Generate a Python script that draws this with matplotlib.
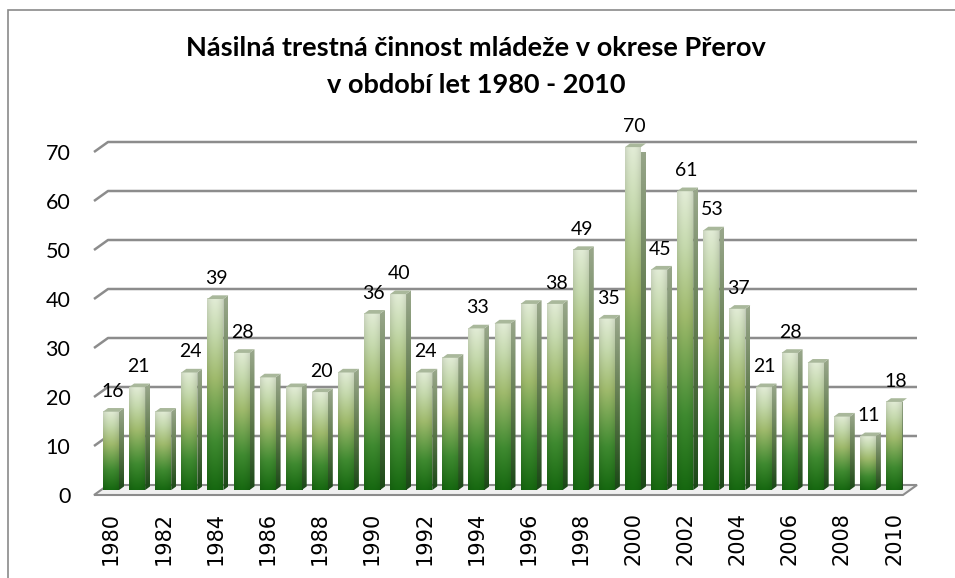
import matplotlib
matplotlib.use("Agg")
import matplotlib.pyplot as plt
import numpy as np
from matplotlib.colors import LinearSegmentedColormap
from matplotlib.patches import Polygon, Rectangle

# ---------------- data ----------------
years = list(range(1980, 2011))
values = [16, 21, 16, 24, 39, 28, 23, 21, 20, 24,
          36, 40, 24, 27, 33, 34, 38, 38, 49, 35,
          70, 45, 61, 53, 37, 21, 28, 26, 15, 11, 18]
labeled_years = [1980, 1981, 1983, 1984, 1985, 1988, 1990, 1991, 1992, 1994,
                 1997, 1998, 1999, 2000, 2001, 2002, 2003, 2004, 2005, 2006,
                 2009, 2010]
yticks = [0, 10, 20, 30, 40, 50, 60, 70]
xtick_years = list(range(1980, 2011, 2))
title_lines = ["Násilná trestná činnost mládeže v okrese Přerov",
               "v období let 1980 - 2010"]

# ---------------- figure ----------------
W, H = 955, 578
fig = plt.figure(figsize=(W / 100, H / 100), dpi=100)
fig.patch.set_facecolor("white")

# outer border (chart area frame)
fig.add_artist(Rectangle((7.5 / W, -0.1), 1.2, 1.1 - 10.5 / H,
                         transform=fig.transFigure, fill=False,
                         edgecolor="#8a8a8a", linewidth=1.2))

px_x0, px_x1 = 94, 903      # front plane left/right in pixels
px_y0, px_y70 = 495, 152    # front plane value 0 / 70
px_per_x = 26.1
cx0 = 111                    # pixel of first bar centre
ax = fig.add_axes([px_x0 / W, (H - px_y0) / H,
                   (px_x1 - px_x0) / W, (px_y0 - px_y70) / H])
ax.set_xlim((px_x0 - cx0) / px_per_x, (px_x1 - cx0) / px_per_x)
ax.set_ylim(0, 70)
for s in ax.spines.values():
    s.set_visible(False)
ax.patch.set_alpha(0)

xl0, xl1 = ax.get_xlim()
DX, DY = 14 / px_per_x, 10 / 4.9        # wall depth offset
grid_col = "#8c8c8c"

# floor
floor = Polygon([(xl0, 0), (xl1, 0), (xl1 + DX, DY), (xl0 + DX, DY)],
                closed=True, facecolor="#f0f0f0", edgecolor=grid_col,
                linewidth=1.5, zorder=1, clip_on=False)
ax.add_patch(floor)
# gridlines on back wall with left slant
for v in yticks[1:]:
    ax.plot([xl0, xl0 + DX, xl1 + DX], [v, v + DY, v + DY],
            color=grid_col, lw=1.8, zorder=1, clip_on=False,
            solid_capstyle="butt")

# bars
front_cmap = LinearSegmentedColormap.from_list(
    "front", [(0.0, "#166810"), (0.25, "#3f8a30"), (0.58, "#9fba6c"),
              (0.82, "#c6daae"), (1.0, "#e2ecd6")])
side_cmap = LinearSegmentedColormap.from_list(
    "side", [(0.0, "#1a4716"), (0.5, "#5f7a4c"), (1.0, "#9aa88c")])
grad = np.linspace(0, 1, 256).reshape(-1, 1)
shade = 1 - 0.10 * np.abs(np.linspace(-1, 1, 32)) ** 2
bw = 16 / px_per_x
base = 1.0
ddx, ddy = 5 / px_per_x, 0.75

for i, (yr, v) in enumerate(zip(years, values)):
    xl, xr = i - bw / 2, i + bw / 2
    top = base + v
    # front face gradient
    rgba = front_cmap(np.repeat(grad, 32, axis=1))
    rgba[..., :3] *= shade[None, :, None]
    imf = ax.imshow(rgba, extent=[xl, xr, base, top], origin="lower",
                    aspect="auto", interpolation="bilinear", zorder=3)
    imf.set_clip_on(False)
    # side face
    side_poly = Polygon([(xr, base), (xr + ddx, base + ddy),
                         (xr + ddx, top + ddy), (xr, top)],
                        closed=True, facecolor="none", edgecolor="none",
                        transform=ax.transData, clip_on=False)
    ax.add_patch(side_poly)
    im = ax.imshow(side_cmap(grad), extent=[xr, xr + ddx, base, top + ddy],
                   origin="lower", aspect="auto", interpolation="bilinear",
                   zorder=3)
    im.set_clip_path(side_poly)
    # top face
    ax.add_patch(Polygon([(xl, top), (xr, top), (xr + ddx, top + ddy),
                          (xl + ddx, top + ddy)], closed=True,
                         facecolor="#a9b89b", edgecolor="none", zorder=3,
                         clip_on=False))
    if yr in labeled_years:
        ax.annotate(str(v), (i + 0.05, top + ddy), xytext=(0, 6),
                    textcoords="offset points", ha="center", va="bottom",
                    fontsize=14, family="Lato", color="#000000", zorder=5,
                    annotation_clip=False)

ax.set_xlim(xl0, xl1)
ax.set_ylim(0, 70)

ax.set_yticks(yticks)
ax.set_yticklabels([str(t) for t in yticks], fontsize=15.5, family="Lato")
ax.set_xticks([years.index(y) for y in xtick_years])
ax.set_xticklabels([str(y) for y in xtick_years], rotation=90,
                   fontsize=15, family="DejaVu Sans")
ax.tick_params(axis="y", length=0, pad=17)
ax.tick_params(axis="x", length=0, pad=12)

for k, line in enumerate(title_lines):
    fig.text(476 / W, 1 - (48 + 37 * k) / H, line, ha="center", va="center",
             fontsize=19.5, fontweight="bold", family="Lato")

fig.savefig("out.png", dpi=100)
